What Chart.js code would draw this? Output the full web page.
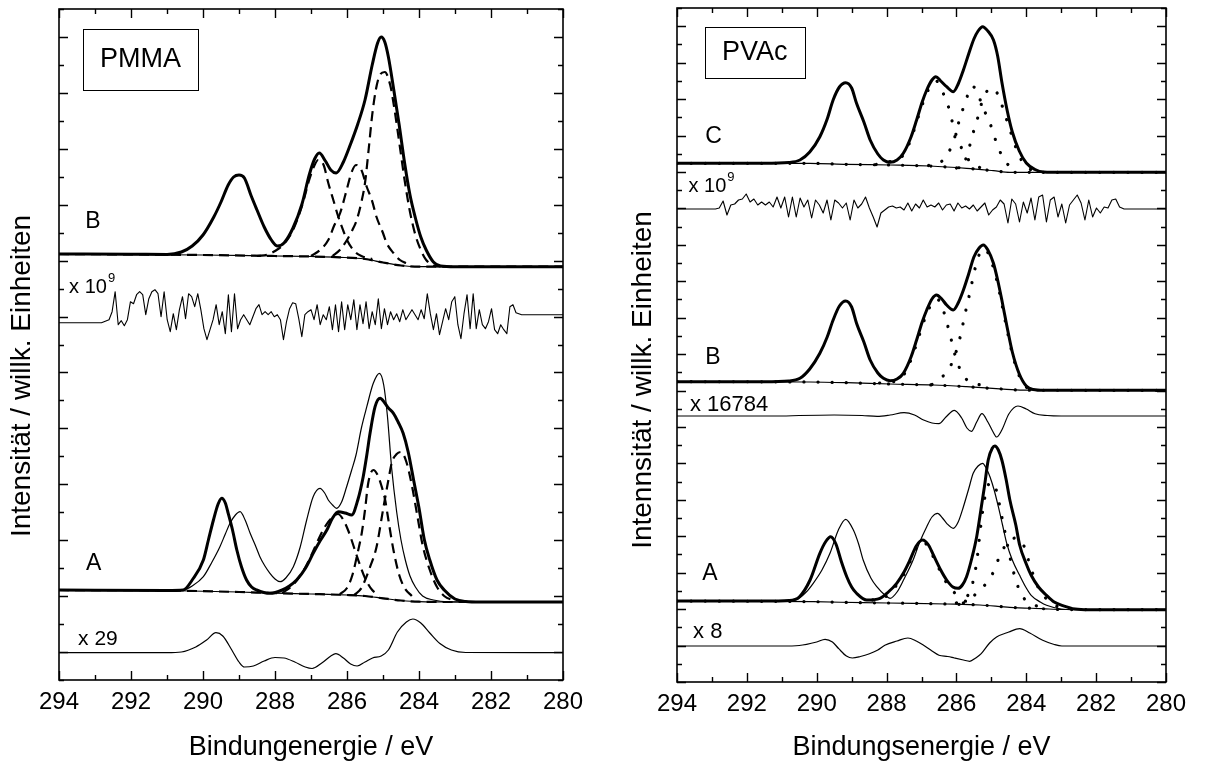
<!DOCTYPE html>
<html>
<head>
<meta charset="utf-8">
<script src="https://cdn.jsdelivr.net/npm/chart.js@4.4.0/dist/chart.umd.min.js"></script>
<style>
html, body { margin: 0; padding: 0; background: #fff; }
#wrap { position: relative; width: 1205px; height: 764px; overflow: hidden; }
canvas { position: absolute; top: 0; }
</style>
</head>
<body>
<div id="wrap">
  <canvas id="pmma" width="600" height="764" style="left:0px"></canvas>
  <canvas id="pvac" width="605" height="764" style="left:600px"></canvas>
</div>
<script>
// ---- data: [Bindungsenergie (eV), Intensität (willk. Einheiten)] ----

// PMMA, Spektrum B
const pmmaB_env = [[294,426],[292,425.8],[291,425.5],[290.6,428],[290.3,434],[290.0,445],[289.7,463],[289.5,478],[289.3,495],[289.15,503],[289.0,505],[288.85,502],[288.66,484],[288.5,470],[288.3,453],[288.1,440],[287.93,434],[287.75,437],[287.5,452],[287.25,476],[287.05,505],[286.9,521],[286.77,527],[286.6,519],[286.45,510],[286.3,507],[286.1,518],[285.9,536],[285.7,556],[285.5,580],[285.3,615],[285.15,637],[285.05,643],[284.95,638],[284.85,623],[284.7,590],[284.55,555],[284.4,517],[284.25,485],[284.1,462],[283.95,443],[283.8,430],[283.6,418],[283.4,414],[283,413.3],[280,413.3]];
const pmmaB_base = [[294,426],[290,425],[288,424],[287,423.5],[286.2,422.7],[285.5,421],[285,417.5],[284.5,414.5],[284,413.3],[280,413.3]];
const pmmaB_c2 = [[288.5,424],[288.2,425.5],[288.0,429],[287.75,436],[287.5,450],[287.25,474],[287.05,500],[286.9,515],[286.8,520],[286.65,515],[286.52,497],[286.38,480],[286.24,463],[286.1,449],[286.0,440],[285.8,429],[285.6,424],[285.3,421]];
const pmmaB_c3 = [[287.0,424],[286.75,430],[286.52,440],[286.35,455],[286.19,467],[286.01,490],[285.88,507],[285.75,515],[285.6,510],[285.45,493],[285.31,480],[285.18,463],[285.0,447],[284.9,437],[284.71,427],[284.53,420],[284.3,416]];
const pmmaB_c4 = [[286.4,424],[286.2,430],[286.0,440],[285.85,450],[285.73,460],[285.6,478],[285.5,497],[285.4,530],[285.3,565],[285.2,590],[285.1,604],[284.95,608],[284.8,595],[284.7,575],[284.55,538],[284.4,500],[284.25,468],[284.1,445],[283.95,430],[283.8,420],[283.6,414.5],[283.4,413.3]];
// PMMA, Residuum x 10^9 (Abweichung vom Nullniveau)
const pmmaNoiseLevel = 357.3;
const pmmaNoiseLead = [[294,0],[292.82,0]];
const pmmaNoiseStart = 292.61, pmmaNoiseStep = 0.085;
const pmmaNoise = [3,11,31,-2,2,-3,3,21,19,28, 31,28,8,24,31,33,29,6,31,3, -9,9,-7,13,26,4,29,26,16,29, 13,-6,-17,-7,3,18,-2,11,-11,28, -9,29,-6,3,8,3,-2,6,14,18, 8,11,8,11,6,8,3,-17,1,14, 20,19,4,-14,8,11,13,3,18,-2, 8,3,16,-7,18,-9,21,-7,18,3, 23,-7,18,-1,21,-6,11,-2,24,-6, 14,-2,11,3,9,1,13,3,8,13, 8,3,13,4,29,9,-7,9,-12,1, 14,3,21,26,-2,-16,9,28,-6,29, -6,13,-2,-6,1,14,-7,-11,-2,-7, -11,16,18,10];
const pmmaNoiseTail = [[281.15,8],[280,8]];

// PMMA, Spektrum A
const pmmaA_thick = [[294,90],[291,89.5],[290.55,90],[290.3,100],[289.99,120],[289.85,140],[289.71,160],[289.58,176],[289.48,181.7],[289.38,177],[289.3,166.7],[289.18,150],[289.06,130],[288.93,113],[288.79,100],[288.65,93],[288.51,90],[288.14,86.7],[287.8,90],[287.6,94],[287.4,100],[287.15,112],[286.94,126.7],[286.75,139],[286.56,150],[286.4,162],[286.24,168.3],[286.05,167],[285.87,165],[285.7,180],[285.55,203.3],[285.45,225],[285.36,246.7],[285.22,273.3],[285.08,281.7],[284.95,277],[284.85,272],[284.71,266.7],[284.58,258],[284.44,246.7],[284.3,228],[284.15,200],[284.0,172],[283.85,140],[283.7,120],[283.5,100],[283.3,90],[283.0,81],[282.7,78.5],[282.3,78],[280,78]];
const pmmaA_thin = [[294,90],[291,89.5],[290.55,90],[290.3,94],[289.99,103.3],[289.75,118],[289.53,133.3],[289.38,146],[289.25,156.7],[289.1,165],[288.97,168.3],[288.83,160],[288.69,146.7],[288.55,135],[288.42,123.3],[288.28,114],[288.14,106.7],[288.0,101],[287.86,98.3],[287.7,102],[287.49,113.3],[287.3,133],[287.12,160],[286.94,183.3],[286.75,191.7],[286.62,187],[286.52,180],[286.4,175],[286.29,171.7],[286.15,178],[286.01,193.3],[285.87,210],[285.75,225],[285.6,252],[285.45,273.3],[285.27,296.7],[285.1,306.7],[284.98,295],[284.88,265],[284.76,212],[284.62,168],[284.5,140],[284.38,120],[284.25,104],[284.1,93],[283.9,84],[283.6,80],[283.2,78.2],[280,78]];
const pmmaA_base = [[294,90],[291,89.5],[289,88],[288,86.8],[287,86],[286,85],[285.5,84],[285,81.7],[284.5,79.5],[284,78.3],[283,78],[280,78]];
const pmmaA_c2 = [[287.8,87],[287.5,95],[287.2,110],[287.0,124],[286.8,140],[286.6,154],[286.4,163],[286.25,166],[286.1,160],[285.95,148],[285.8,132],[285.65,116],[285.5,102],[285.3,90],[285.1,85]];
const pmmaA_c3 = [[286.2,86],[286.0,92],[285.85,105],[285.7,128],[285.59,147],[285.5,170],[285.41,197],[285.27,210],[285.15,205],[285.05,195],[284.94,180],[284.85,160],[284.71,130],[284.55,105],[284.4,92],[284.2,84]];
const pmmaA_c4 = [[285.8,85],[285.6,92],[285.36,113],[285.18,133],[285.0,170],[284.85,200],[284.75,218],[284.62,226],[284.5,228],[284.35,218],[284.2,195],[284.05,165],[283.9,135],[283.7,110],[283.5,93],[283.3,84],[283.0,79]];
// PMMA, Differenz x 29
const pmmaA_diff = [[294,27.3],[291,27.3],[290.6,28],[290.2,33],[289.9,40],[289.64,47.3],[289.45,44],[289.2,30],[289.0,18],[288.85,13],[288.6,14],[288.3,19],[288.0,22.5],[287.75,22],[287.45,18],[287.16,13],[286.97,11.5],[286.7,17],[286.45,24],[286.31,26.3],[286.1,22],[285.9,16],[285.72,14],[285.5,18],[285.29,22],[285.05,24],[284.85,30],[284.6,48],[284.35,58],[284.17,61],[283.95,57],[283.7,47],[283.42,36.5],[283.1,30],[282.7,27.5],[280,27.3]];

// PVAc, Spektrum C
const pvacC_env = [[294,518.7],[291.5,518.7],[290.8,519.5],[290.48,522],[290.2,530],[289.91,545.3],[289.7,563],[289.53,582],[289.35,595],[289.17,599.3],[289.0,594],[288.86,578.7],[288.65,560],[288.47,542],[288.25,528],[288.09,522],[287.9,519.7],[287.7,522],[287.52,528.7],[287.3,545],[287.14,562],[286.98,580],[286.85,592],[286.7,602],[286.59,605.3],[286.45,601],[286.28,595.3],[286.09,590.3],[285.95,598],[285.8,612],[285.65,628],[285.5,643],[285.38,651],[285.25,655.3],[285.1,651],[284.94,642],[284.82,626],[284.7,600],[284.55,572],[284.4,550],[284.2,531],[284.0,519],[283.75,512.5],[283.5,510],[283,509.7],[280,509.7]];
const pvacC_base = [[294,518.7],[290.2,518.7],[289.14,517.7],[287.9,517],[286.76,516],[285.71,513.7],[284.94,511.3],[284.47,509.7],[280,509.7]];
const pvacC_c2 = [[288.3,517.5],[288.0,520],[287.7,522],[287.5,528],[287.3,543],[287.14,560],[286.98,577],[286.85,589],[286.7,598],[286.59,601],[286.45,596],[286.36,587],[286.2,572],[286.09,556],[285.93,540],[285.71,525],[285.5,517],[285.3,514]];
const pvacC_c3 = [[286.8,516.5],[286.5,519],[286.3,525],[286.15,535],[286.02,548],[285.9,564],[285.75,579],[285.56,596],[285.4,590],[285.28,578],[285.01,556],[284.87,541],[284.68,525],[284.45,515],[284.2,511]];
const pvacC_c4 = [[286.0,514],[285.85,516],[285.71,525],[285.54,547],[285.4,563],[285.25,582],[285.1,592],[285.0,594],[284.85,590],[284.7,577],[284.56,562],[284.4,545],[284.25,530],[284.05,517],[283.85,512],[283.6,510]];
// PVAc, Residuum x 10^9
const pvacNoiseLevel = 473;
const pvacNoiseLead = [[294,0],[292.9,0]];
const pvacNoiseStart = 292.79, pvacNoiseStep = 0.1102;
const pvacNoise = [1,8,-6,4,5,9,10,15,7,10, 4,7,4,7,2,12,1,12,-8,12, -8,11,2,9,-9,9,4,-4,9,-11, 9,6,1,6,-11,9,1,5,12,1, -8,-18,-4,-1,2,3,1,2,-1,6, -2,5,1,9,2,4,2,6,-1,4, 5,-2,6,1,3,0,4,-2,2,6, -6,-1,2,9,5,-14,10,5,-13,7, -4,11,-11,12,14,-13,9,12,-8,5, -14,4,9,14,6,-11,9,-8,1,-4, 2,1,9,10,2];
const pvacNoiseTail = [[281.2,0],[280,0]];

// PVAc, Spektrum B
const pvacB_env = [[294,300.3],[291.5,300.3],[290.8,301],[290.48,303.7],[290.2,313],[289.91,328.7],[289.7,345],[289.53,362],[289.35,376],[289.17,381],[289.0,375],[288.86,358.7],[288.65,340],[288.47,322],[288.25,309],[288.09,303.7],[287.9,301.3],[287.7,303],[287.52,308.7],[287.3,325],[287.14,342],[286.98,360],[286.85,372],[286.7,383],[286.57,387],[286.42,383],[286.28,377],[286.09,372],[285.95,379],[285.8,392],[285.65,408],[285.5,425],[285.35,434],[285.23,437],[285.1,432],[284.94,418.7],[284.82,402],[284.7,382],[284.55,355],[284.4,330],[284.2,308],[284.0,296],[283.8,292.5],[283.5,291.7],[280,291.7]];
const pvacB_base = [[294,300.3],[290.2,300],[289.14,299.3],[287.9,298],[286.66,297],[285.71,295.3],[284.56,292.7],[284.0,291.8],[280,291.7]];
const pvacB_c2 = [[288.2,299],[287.9,300],[287.6,303],[287.35,318],[287.14,338],[286.98,356],[286.85,368],[286.7,379],[286.57,383],[286.45,379],[286.31,364],[286.16,344],[286.04,327],[285.9,313],[285.75,304],[285.55,299],[285.3,297]];
const pvacB_c4 = [[286.7,297.5],[286.45,304],[286.23,312],[286.04,327],[285.9,344],[285.8,360],[285.71,375],[285.61,390],[285.51,407],[285.4,422],[285.3,431],[285.2,433],[285.08,428],[284.94,414],[284.82,398],[284.7,378],[284.55,352],[284.4,328],[284.2,306],[284.0,295],[283.8,292]];
// PVAc, Differenz x 16784
const pvacB_diff = [[294,266],[291,266],[290.5,266.5],[289.5,267],[288.7,266.5],[288.27,265.7],[287.9,267],[287.5,269.3],[287.2,267],[286.94,262],[286.7,259],[286.5,258.3],[286.3,265],[286.06,271.7],[285.85,264],[285.7,254],[285.57,250.7],[285.42,260],[285.27,268.3],[285.1,260],[284.95,250],[284.85,245],[284.7,252],[284.5,268],[284.24,276],[284.0,273],[283.75,268.3],[283.4,266.5],[283,266],[280,266]];

// PVAc, Spektrum A
const pvacA_thick = [[294,81],[291.5,81],[290.8,81.5],[290.5,85],[290.19,102],[289.91,128.7],[289.75,140],[289.6,145.3],[289.45,138],[289.3,121],[289.14,105.3],[289.0,95],[288.86,88.7],[288.57,82],[288.19,83.7],[287.95,90],[287.71,98.7],[287.5,110],[287.33,122],[287.15,136],[286.97,142],[286.8,137],[286.66,127],[286.45,112],[286.28,102],[286.1,95],[285.95,93.7],[285.83,97],[285.71,105.3],[285.55,125],[285.42,145.3],[285.3,172],[285.2,195],[285.09,222],[284.97,234],[284.9,236],[284.8,232],[284.7,222],[284.58,203],[284.47,182],[284.3,157],[284.19,137],[284.0,118],[283.86,106.7],[283.65,95],[283.42,86.7],[283.2,80],[282.98,76.7],[282.6,73],[282.2,72.3],[280,72.3]];
const pvacA_thin = [[294,81],[291,81],[290.6,82],[290.3,90],[290.1,98.7],[289.85,112],[289.62,128.7],[289.38,152],[289.17,162.7],[288.95,152],[288.8,138],[288.67,122],[288.45,104],[288.28,95.3],[288.05,87],[287.9,83.7],[287.7,90],[287.5,103],[287.24,122],[287.05,140],[286.85,155.3],[286.7,165],[286.54,168.7],[286.4,164],[286.28,158.7],[286.09,153.7],[285.95,160],[285.8,175.3],[285.65,193],[285.52,208.7],[285.38,216],[285.25,218.7],[285.15,214],[285.04,205.3],[284.92,192],[284.8,175.3],[284.68,157],[284.56,138.7],[284.4,122],[284.19,106.7],[284.0,94],[283.86,86.7],[283.6,80],[283.42,76.7],[283.0,73],[282.6,72.3],[280,72.3]];
const pvacA_base = [[294,81],[290.1,80.3],[288.67,79.3],[287.24,78.7],[286.28,78],[285.33,77],[284.47,74.7],[283.53,73.3],[283,72.5],[280,72.3]];
const pvacA_cmid = [[288.4,82],[288.0,86],[287.71,97],[287.5,108],[287.33,120],[287.15,134],[286.97,140],[286.8,135],[286.66,125],[286.45,110],[286.28,99],[286.1,91],[285.95,86],[285.75,81],[285.5,78]];
const pvacA_cmain = [[286.0,79],[285.8,82],[285.65,88],[285.55,97],[285.42,120],[285.3,157],[285.2,182],[285.1,196],[285.0,200],[284.86,192],[284.75,174],[284.6,148],[284.45,122],[284.3,102],[284.15,88],[283.95,80],[283.7,76],[283.4,74]];
const pvacA_clow = [[285.8,79],[285.61,82],[285.4,90],[285.21,96],[285.05,104],[284.94,110],[284.75,127],[284.52,140],[284.3,144],[284.08,137],[283.86,113],[283.65,94],[283.42,83],[283.2,77],[283.0,74]];
// PVAc, Differenz x 8
const pvacA_diff = [[294,36],[291,36],[290.5,36.5],[290.0,40],[289.76,42.7],[289.55,40],[289.37,33.3],[289.15,26],[288.98,24],[288.75,25.5],[288.49,28.3],[288.25,32],[288.05,36.7],[287.7,41],[287.39,44],[287.15,41],[286.94,36.7],[286.7,31],[286.5,26.7],[286.25,25.5],[286.06,24],[285.8,22],[285.62,20.7],[285.45,24],[285.29,28.3],[285.05,39],[284.85,45],[284.5,50],[284.19,53.3],[283.9,49],[283.53,41.7],[283.2,37.5],[282.98,36],[280,36]];

const xTicksMajor = [294, 292, 290, 288, 286, 284, 282, 280];

// ---- chart setup ----
const FONT = "'Liberation Sans', Arial, Helvetica, sans-serif";
Chart.defaults.font.family = FONT;
Chart.defaults.color = '#000';

const STYLE = {
  thick: { borderWidth: 3 },
  thin: { borderWidth: 1.2 },
  dash: { borderWidth: 2.2, borderDash: [10, 6] },
  dot: { borderWidth: 3.2, borderDash: [0.1, 14], borderCapStyle: 'round' },
  noise: { borderWidth: 1.1, cubicInterpolationMode: 'default', tension: 0 }
};

function line(points, style) {
  return Object.assign({
    data: points.map(([e, h]) => ({ x: e, y: h })),
    borderColor: '#000',
    borderJoinStyle: 'round',
    pointRadius: 0,
    fill: false,
    cubicInterpolationMode: 'monotone'
  }, STYLE[style]);
}

function noiseLine(lead, start, step, level, d, tail) {
  const pts = lead.concat(d.map((v, i) => [start - i * step, v]), tail);
  return line(pts.map(([e, v]) => [e, level + v]), 'noise');
}

// inward ticks, frame, labels and y title
const panelDecor = {
  id: 'panelDecor',
  afterDraw(chart, args, opts) {
    const { ctx, chartArea: a } = chart;
    const xs = chart.scales.x, ys = chart.scales.y;
    ctx.save();
    ctx.strokeStyle = '#000';
    ctx.lineWidth = 1.4;
    ctx.beginPath();
    xs.ticks.forEach(t => {
      const px = Math.round(xs.getPixelForValue(t.value)) + 0.5;
      const len = xTicksMajor.includes(t.value) ? 9 : 5;
      ctx.moveTo(px, a.bottom); ctx.lineTo(px, a.bottom - len);
      ctx.moveTo(px, a.top); ctx.lineTo(px, a.top + len);
    });
    ys.ticks.forEach((t, i) => {
      const py = Math.round(ys.getPixelForValue(t.value)) + 0.5;
      const len = i % 2 === opts.majorParity ? 9 : 5;
      ctx.moveTo(a.left, py); ctx.lineTo(a.left + len, py);
      ctx.moveTo(a.right, py); ctx.lineTo(a.right - len, py);
    });
    ctx.stroke();
    ctx.lineWidth = 1.6;
    ctx.strokeRect(a.left, a.top, a.right - a.left, a.bottom - a.top);

    ctx.fillStyle = '#000';
    ctx.textBaseline = 'middle';
    opts.labels.forEach(l => {
      const px = xs.getPixelForValue(l.e), py = ys.getPixelForValue(l.h);
      ctx.font = l.size + 'px ' + FONT;
      ctx.textAlign = l.align || 'left';
      ctx.fillText(l.text, px, py);
      if (l.sup) {
        const w = ctx.measureText(l.text).width;
        ctx.font = Math.round(l.size * 0.65) + 'px ' + FONT;
        ctx.textAlign = 'left';
        ctx.fillText(l.sup, px + w + 1, py - l.size * 0.45);
      }
    });

    const b = opts.box;
    const x0 = xs.getPixelForValue(b.e0), x1 = xs.getPixelForValue(b.e1);
    const y0 = ys.getPixelForValue(b.h1), y1 = ys.getPixelForValue(b.h0);
    ctx.lineWidth = 1;
    ctx.strokeRect(Math.round(x0) + 0.5, Math.round(y0) + 0.5, Math.round(x1 - x0), Math.round(y1 - y0));
    ctx.font = b.size + 'px ' + FONT;
    ctx.textAlign = 'center';
    ctx.fillText(b.text, (x0 + x1) / 2, (y0 + y1) / 2 + 1);

    const yt = opts.yTitle;
    ctx.translate(yt.x, yt.y);
    ctx.rotate(-Math.PI / 2);
    ctx.font = yt.size + 'px ' + FONT;
    ctx.textAlign = 'center';
    ctx.fillText(yt.text, 0, 0);
    ctx.restore();
  }
};

function makeChart(id, cfg) {
  return new Chart(document.getElementById(id), {
    type: 'line',
    data: { datasets: cfg.datasets },
    options: {
      responsive: false,
      animation: false,
      devicePixelRatio: 1,
      layout: { padding: cfg.padding },
      plugins: {
        legend: { display: false },
        tooltip: { enabled: false },
        panelDecor: cfg.decor
      },
      scales: {
        x: {
          type: 'linear', reverse: true, min: 280, max: 294,
          afterFit: s => { s.height = cfg.xAxisHeight; },
          grid: { display: false, drawTicks: false },
          border: { display: false },
          ticks: {
            stepSize: 1, autoSkip: false, maxRotation: 0, minRotation: 0, padding: 8,
            font: { size: 24 },
            callback: v => xTicksMajor.includes(v) ? String(v) : ''
          },
          title: { display: true, text: cfg.xTitle, font: { size: 27 }, padding: { top: 0, bottom: 0 } }
        },
        y: {
          type: 'linear', min: 0, max: cfg.yMax,
          afterFit: s => { s.width = cfg.yAxisWidth; },
          afterBuildTicks: s => {
            const ticks = [];
            for (let i = 0; i <= cfg.yTickCount; i++) ticks.push({ value: i * cfg.yMax / cfg.yTickCount });
            s.ticks = ticks;
          },
          grid: { display: false },
          border: { display: false },
          ticks: { display: false }
        }
      }
    },
    plugins: [panelDecor]
  });
}

makeChart('pmma', {
  padding: { top: 9, right: 37, bottom: 0, left: 0 },
  xAxisHeight: 84,
  yAxisWidth: 59,
  yMax: 671,
  yTickCount: 24,
  xTitle: 'Bindungenergie / eV',
  decor: {
    majorParity: 1,
    yTitle: { text: 'Intensität / willk. Einheiten', x: 22, y: 376, size: 28 },
    box: { text: 'PMMA', e0: 293.33, e1: 290.14, h0: 590.7, h1: 651.3, size: 27 },
    labels: [
      { text: 'B', e: 293.06, h: 458, size: 23, align: 'center' },
      { text: 'x 10', sup: '9', e: 293.72, h: 393, size: 20 },
      { text: 'A', e: 293.04, h: 116, size: 23, align: 'center' },
      { text: 'x 29', e: 293.47, h: 41, size: 21 }
    ]
  },
  datasets: [
    line(pmmaB_env, 'thick'),
    line(pmmaA_thick, 'thick'),
    line(pmmaA_thin, 'thin'),
    line(pmmaB_c2, 'dash'),
    line(pmmaB_c3, 'dash'),
    line(pmmaB_c4, 'dash'),
    line(pmmaA_c2, 'dash'),
    line(pmmaA_c3, 'dash'),
    line(pmmaA_c4, 'dash'),
    line(pmmaB_base, 'dash'),
    line(pmmaA_base, 'dash'),
    line(pmmaB_base, 'thin'),
    line(pmmaA_base, 'thin'),
    noiseLine(pmmaNoiseLead, pmmaNoiseStart, pmmaNoiseStep, pmmaNoiseLevel, pmmaNoise, pmmaNoiseTail),
    line(pmmaA_diff, 'thin')
  ]
});

makeChart('pvac', {
  padding: { top: 8, right: 39, bottom: 0, left: 0 },
  xAxisHeight: 82,
  yAxisWidth: 77,
  yMax: 674,
  yTickCount: 37,
  xTitle: 'Bindungsenergie / eV',
  decor: {
    majorParity: 0,
    yTitle: { text: 'Intennsität / willk. Einheiten', x: 43, y: 380, size: 28 },
    box: { text: 'PVAc', e0: 293.21, e1: 290.34, h0: 604.7, h1: 655.3, size: 27 },
    labels: [
      { text: 'C', e: 292.95, h: 545.3, size: 23, align: 'center' },
      { text: 'x 10', sup: '9', e: 293.67, h: 495.3, size: 20 },
      { text: 'B', e: 292.97, h: 324, size: 23, align: 'center' },
      { text: 'x 16784', e: 293.63, h: 277, size: 22 },
      { text: 'A', e: 293.06, h: 108.7, size: 23, align: 'center' },
      { text: 'x 8', e: 293.54, h: 50.3, size: 22 }
    ]
  },
  datasets: [
    line(pvacC_env, 'thick'),
    line(pvacB_env, 'thick'),
    line(pvacA_thick, 'thick'),
    line(pvacA_thin, 'thin'),
    line(pvacC_c2, 'dot'),
    line(pvacC_c3, 'dot'),
    line(pvacC_c4, 'dot'),
    line(pvacB_c2, 'dot'),
    line(pvacB_c4, 'dot'),
    line(pvacA_cmid, 'dot'),
    line(pvacA_cmain, 'dot'),
    line(pvacA_clow, 'dot'),
    line(pvacC_base, 'dot'),
    line(pvacB_base, 'dot'),
    line(pvacA_base, 'dot'),
    line(pvacC_base, 'thin'),
    line(pvacB_base, 'thin'),
    line(pvacA_base, 'thin'),
    noiseLine(pvacNoiseLead, pvacNoiseStart, pvacNoiseStep, pvacNoiseLevel, pvacNoise, pvacNoiseTail),
    line(pvacB_diff, 'thin'),
    line(pvacA_diff, 'thin')
  ]
});
</script>
</body>
</html>
